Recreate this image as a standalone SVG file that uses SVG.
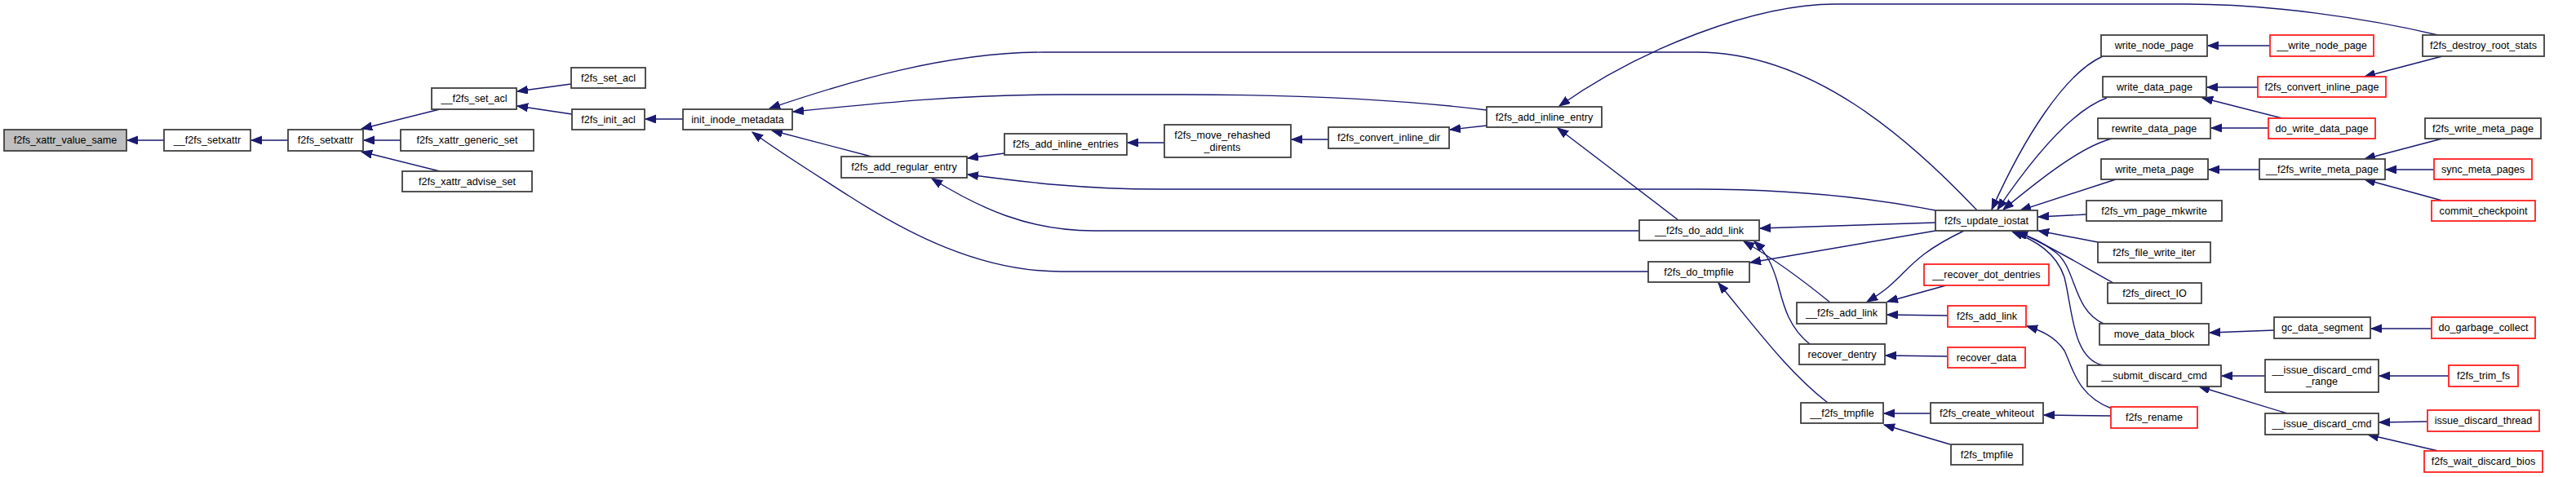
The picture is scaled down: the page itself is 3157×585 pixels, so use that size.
<svg xmlns="http://www.w3.org/2000/svg" width="3157" height="585" viewBox="0 0 3157 585">
<style>
.n rect{fill:#fff;stroke:#404040;stroke-width:1.8}
.n.r rect{stroke:#ff2020}
.n.g rect{fill:#bfbfbf}
text{font-family:"Liberation Sans",Arial,Helvetica,sans-serif;font-size:12.6px;text-anchor:middle;fill:#000}
.e path{fill:none;stroke:#191970;stroke-width:1.4;marker-end:url(#ah)}
</style>
<defs>
<marker id="ah" markerUnits="userSpaceOnUse" markerWidth="14" markerHeight="11" refX="13" refY="5" orient="auto"><path d="M0,0 L13,5 L0,10 z" fill="#191970" stroke="#191970" stroke-width="1"/></marker>
</defs>
<rect width="3157" height="585" fill="#fff"/>
<g id="edges" class="e">
<path d="M201,172 L156,172"/>
<path d="M353,172 L308,172"/>
<path d="M539,134 L443,158"/>
<path d="M491,172 L446,172"/>
<path d="M539,210 L443,186"/>
<path d="M700,103 L634,112"/>
<path d="M701,140 L634,130"/>
<path d="M837,146 L791,146"/>
<path d="M1068,192 L946,160"/>
<path d="M1822,135 C1700,120 1560,116 1450,116 L1300,116 C1180,116 1080,126 972,137"/>
<path d="M2423,258 C2340,170 2220,64 2080,64 L1280,64 C1160,64 1040,100 943,133"/>
<path d="M2020,333 L1300,333 C1200,333 1110,285 1040,240 C990,208 950,183 922,162"/>
<path d="M1231,188 L1186,194"/>
<path d="M1427,175 L1382,175"/>
<path d="M1628,171 L1583,171"/>
<path d="M1822,154 L1777,159"/>
<path d="M2988,43 C2900,22 2780,5 2680,5 L2250,5 C2150,5 2010,60 1911,130"/>
<path d="M2372,258 C2290,242 2200,232 2080,232 L1420,232 C1330,232 1260,224 1186,214"/>
<path d="M2009,283 L1340,283 C1260,283 1200,255 1142,219"/>
<path d="M2057,270 L1909,157"/>
<path d="M2372,273 L2157,280"/>
<path d="M2372,283 L2145,322"/>
<path d="M2243,371 C2205,340 2170,315 2137,296"/>
<path d="M2218,422 C2190,400 2185,370 2178,345 C2172,325 2165,310 2150,296"/>
<path d="M2407,283 C2330,320 2340,340 2288,370"/>
<path d="M2385,350 L2313,370"/>
<path d="M2387,387 L2313,386"/>
<path d="M2387,437 L2311,436"/>
<path d="M2240,494 C2190,455 2150,400 2106,347"/>
<path d="M2366,507 L2309,507"/>
<path d="M2390,545 L2309,521"/>
<path d="M2587,510 L2505,509"/>
<path d="M2588,501 C2545,485 2540,450 2530,430 C2518,412 2500,405 2484,400"/>
<path d="M2577,69 C2530,90 2480,170 2441,257"/>
<path d="M2582,120 C2540,135 2490,195 2448,257"/>
<path d="M2588,170 C2550,180 2500,220 2455,257"/>
<path d="M2593,220 L2476,258"/>
<path d="M2557,263 L2498,266"/>
<path d="M2571,297 L2498,283"/>
<path d="M2590,347 C2550,325 2510,300 2472,284"/>
<path d="M2578,397 C2540,380 2545,330 2520,310 C2505,298 2490,290 2469,284"/>
<path d="M2577,448 C2540,440 2540,380 2530,340 C2520,310 2495,295 2466,284"/>
<path d="M2782,56 L2706,56"/>
<path d="M2767,107 L2705,107"/>
<path d="M2797,145 L2699,120"/>
<path d="M2780,157 L2710,157"/>
<path d="M2769,208 L2707,208"/>
<path d="M2993,170 L2898,195"/>
<path d="M2983,208 L2924,208"/>
<path d="M2993,246 L2898,220"/>
<path d="M2993,69 L2898,94"/>
<path d="M2787,405 L2708,408"/>
<path d="M2980,403 L2906,403"/>
<path d="M2776,461 L2723,461"/>
<path d="M2803,507 L2695,474"/>
<path d="M3001,461 L2916,461"/>
<path d="M2975,517 L2916,518"/>
<path d="M2988,553 L2902,533"/>
</g>
<g id="n1" class="n g"><rect x="5" y="159" width="150" height="26"/><text x="80" y="176">f2fs_xattr_value_same</text></g>
<g id="n2" class="n"><rect x="201" y="159" width="106" height="26"/><text x="254" y="176">__f2fs_setxattr</text></g>
<g id="n3" class="n"><rect x="353" y="159" width="92" height="26"/><text x="399" y="176">f2fs_setxattr</text></g>
<g id="n4" class="n"><rect x="529" y="108" width="104" height="26"/><text x="581" y="125">__f2fs_set_acl</text></g>
<g id="n5" class="n"><rect x="491" y="159" width="163" height="26"/><text x="572.5" y="176">f2fs_xattr_generic_set</text></g>
<g id="n6" class="n"><rect x="493" y="210" width="159" height="25"/><text x="572.5" y="227">f2fs_xattr_advise_set</text></g>
<g id="n7" class="n"><rect x="700" y="83" width="91" height="25"/><text x="745.5" y="100">f2fs_set_acl</text></g>
<g id="n8" class="n"><rect x="701" y="134" width="89" height="25"/><text x="745.5" y="151">f2fs_init_acl</text></g>
<g id="n9" class="n"><rect x="837" y="134" width="134" height="25"/><text x="904" y="151">init_inode_metadata</text></g>
<g id="n10" class="n"><rect x="1031" y="192" width="154" height="26"/><text x="1108" y="209">f2fs_add_regular_entry</text></g>
<g id="n11" class="n"><rect x="1231" y="164" width="150" height="26"/><text x="1306" y="181">f2fs_add_inline_entries</text></g>
<g id="n12" class="n"><rect x="1427" y="153" width="155" height="40"/><text x="1498" y="169.5">f2fs_move_rehashed</text><text x="1498" y="184.5">_dirents</text></g>
<g id="n13" class="n"><rect x="1628" y="156" width="148" height="26"/><text x="1702" y="173">f2fs_convert_inline_dir</text></g>
<g id="n14" class="n"><rect x="1822" y="131" width="141" height="25"/><text x="1892.5" y="148">f2fs_add_inline_entry</text></g>
<g id="n15" class="n"><rect x="2009" y="270" width="147" height="25"/><text x="2082.5" y="287">__f2fs_do_add_link</text></g>
<g id="n16" class="n"><rect x="2020" y="321" width="124" height="25"/><text x="2082" y="338">f2fs_do_tmpfile</text></g>
<g id="n17" class="n"><rect x="2372" y="258" width="125" height="25"/><text x="2434.5" y="275">f2fs_update_iostat</text></g>
<g id="n18" class="n r"><rect x="2358" y="324" width="153" height="26"/><text x="2434.5" y="341">__recover_dot_dentries</text></g>
<g id="n19" class="n"><rect x="2202" y="371" width="110" height="26"/><text x="2257" y="388">__f2fs_add_link</text></g>
<g id="n20" class="n r"><rect x="2387" y="375" width="96" height="26"/><text x="2435" y="392">f2fs_add_link</text></g>
<g id="n21" class="n"><rect x="2205" y="422" width="105" height="25"/><text x="2257.5" y="439">recover_dentry</text></g>
<g id="n22" class="n r"><rect x="2387" y="426" width="95" height="25"/><text x="2434.5" y="443">recover_data</text></g>
<g id="n23" class="n"><rect x="2207" y="494" width="101" height="25"/><text x="2257.5" y="511">__f2fs_tmpfile</text></g>
<g id="n24" class="n"><rect x="2366" y="494" width="138" height="25"/><text x="2435" y="511">f2fs_create_whiteout</text></g>
<g id="n25" class="n"><rect x="2391" y="545" width="88" height="25"/><text x="2435" y="562">f2fs_tmpfile</text></g>
<g id="n26" class="n"><rect x="2575" y="43" width="130" height="26"/><text x="2640" y="60">write_node_page</text></g>
<g id="n27" class="n"><rect x="2577" y="94" width="127" height="25"/><text x="2640.5" y="111">write_data_page</text></g>
<g id="n28" class="n"><rect x="2571" y="145" width="138" height="25"/><text x="2640" y="162">rewrite_data_page</text></g>
<g id="n29" class="n"><rect x="2575" y="195" width="131" height="25"/><text x="2640.5" y="212">write_meta_page</text></g>
<g id="n30" class="n"><rect x="2557" y="246" width="166" height="25"/><text x="2640" y="263">f2fs_vm_page_mkwrite</text></g>
<g id="n31" class="n"><rect x="2571" y="297" width="138" height="25"/><text x="2640" y="314">f2fs_file_write_iter</text></g>
<g id="n32" class="n"><rect x="2583" y="347" width="115" height="25"/><text x="2640.5" y="364">f2fs_direct_IO</text></g>
<g id="n33" class="n"><rect x="2573" y="397" width="134" height="26"/><text x="2640" y="414">move_data_block</text></g>
<g id="n34" class="n"><rect x="2558" y="448" width="164" height="26"/><text x="2640" y="465">__submit_discard_cmd</text></g>
<g id="n35" class="n r"><rect x="2587" y="499" width="106" height="26"/><text x="2640" y="516">f2fs_rename</text></g>
<g id="n36" class="n r"><rect x="2782" y="43" width="127" height="26"/><text x="2845.5" y="60">__write_node_page</text></g>
<g id="n37" class="n r"><rect x="2767" y="94" width="157" height="25"/><text x="2845.5" y="111">f2fs_convert_inline_page</text></g>
<g id="n38" class="n r"><rect x="2780" y="145" width="131" height="25"/><text x="2845.5" y="162">do_write_data_page</text></g>
<g id="n39" class="n"><rect x="2769" y="195" width="154" height="25"/><text x="2846" y="212">__f2fs_write_meta_page</text></g>
<g id="n40" class="n"><rect x="2787" y="389" width="118" height="26"/><text x="2846" y="406">gc_data_segment</text></g>
<g id="n41" class="n"><rect x="2776" y="441" width="139" height="40"/><text x="2845.5" y="457.5">__issue_discard_cmd</text><text x="2845.5" y="472">_range</text></g>
<g id="n42" class="n"><rect x="2776" y="507" width="139" height="26"/><text x="2845.5" y="524">__issue_discard_cmd</text></g>
<g id="n43" class="n"><rect x="2969" y="43" width="149" height="26"/><text x="3043.5" y="60">f2fs_destroy_root_stats</text></g>
<g id="n44" class="n"><rect x="2972" y="145" width="142" height="25"/><text x="3043" y="162">f2fs_write_meta_page</text></g>
<g id="n45" class="n r"><rect x="2983" y="195" width="120" height="25"/><text x="3043" y="212">sync_meta_pages</text></g>
<g id="n46" class="n r"><rect x="2980" y="246" width="127" height="25"/><text x="3043.5" y="263">commit_checkpoint</text></g>
<g id="n47" class="n r"><rect x="2980" y="389" width="127" height="26"/><text x="3043.5" y="406">do_garbage_collect</text></g>
<g id="n48" class="n r"><rect x="3001" y="448" width="85" height="26"/><text x="3043.5" y="465">f2fs_trim_fs</text></g>
<g id="n49" class="n r"><rect x="2975" y="503" width="137" height="26"/><text x="3043.5" y="520">issue_discard_thread</text></g>
<g id="n50" class="n r"><rect x="2971" y="553" width="145" height="26"/><text x="3043.5" y="570">f2fs_wait_discard_bios</text></g>
</svg>
